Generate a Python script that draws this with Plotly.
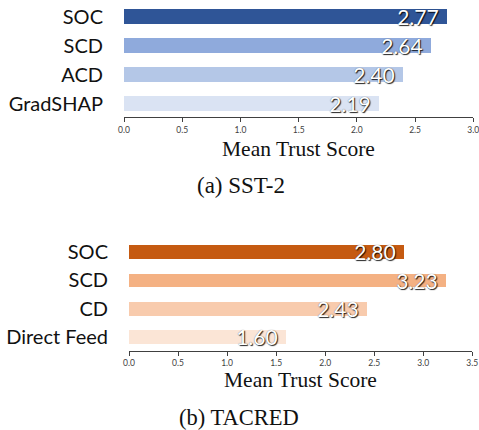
import plotly.graph_objects as go

W, H = 479, 430

# Panel (a) SST-2
sst_methods = ["SOC", "SCD", "ACD", "GradSHAP"]
sst_scores = [2.77, 2.64, 2.40, 2.19]
sst_colors = ["#2f5597", "#8faadc", "#b4c7e7", "#dae3f3"]

# Panel (b) TACRED
tac_methods = ["SOC", "SCD", "CD", "Direct Feed"]
tac_scores = [2.80, 3.23, 2.43, 1.60]
tac_colors = ["#c55a11", "#f4b183", "#f8cbad", "#fbe5d6"]

sst_ticks = [0.0, 0.5, 1.0, 1.5, 2.0, 2.5, 3.0]
tac_ticks = [0.0, 0.5, 1.0, 1.5, 2.0, 2.5, 3.0, 3.5]

xtitle = "Mean Trust Score"
captions = ["(a) SST-2", "(b) TACRED"]

SANS = "Lato, 'Open Sans', sans-serif"
SERIF = "'Liberation Serif', 'Times New Roman', serif"
label_font = dict(family=SANS, size=21, color="white",
                  shadow="1px 1px 1px rgba(0,0,0,0.85), 0px 0px 1px rgba(0,0,0,0.6)")

fig = go.Figure()

def add_bars(methods, scores, colors, xa, ya, width):
    fig.add_trace(go.Bar(
        x=scores, y=methods, orientation="h",
        marker=dict(color=colors, line=dict(width=0)),
        width=width,
        texttemplate="%{x:.2f}\u00a0",
        textposition="inside", insidetextanchor="end",
        constraintext="none",
        textfont=label_font,
        cliponaxis=False,
        xaxis=xa, yaxis=ya, showlegend=False, hoverinfo="skip",
    ))

add_bars(sst_methods, sst_scores, sst_colors, "x", "y", 0.52)
add_bars(tac_methods, tac_scores, tac_colors, "x2", "y2", 0.49)

axis_common = dict(
    showline=True, linecolor="#404040", linewidth=1.2,
    ticks="outside", ticklen=4, tickcolor="#404040", tickwidth=1,
    showgrid=False, zeroline=False, fixedrange=True, automargin=False,
    ticklabeloverflow="allow",
    tickfont=dict(family=SANS, size=8.5, color="#404040"),
    tickformat=".1f", tickmode="array",
)
yaxis_common = dict(
    type="category", categoryorder="array",
    showline=False, ticks="", showgrid=False, zeroline=False,
    ticklabelstandoff=20, fixedrange=True, automargin=False,
    tickfont=dict(family=SANS, size=20, color="#111111"),
)

# Panel geometry (pixels)
t_top, t_bot = 2.0, 117.3
b_top, b_bot = 237.8, 350.7

fig.update_layout(
    width=W, height=H,
    margin=dict(l=0, r=0, t=0, b=0, autoexpand=False),
    paper_bgcolor="white", plot_bgcolor="white",
    bargap=0,
    xaxis=dict(domain=[124 / W, 473.3 / W], range=[0, 3.0], tickvals=sst_ticks,
               anchor="y", **axis_common),
    yaxis=dict(domain=[1 - t_bot / H, 1 - t_top / H],
               categoryarray=sst_methods, range=[3.476, -0.5], anchor="x",
               **yaxis_common),
    xaxis2=dict(domain=[129 / W, 472.3 / W], range=[0, 3.5], tickvals=tac_ticks,
                anchor="y2", **axis_common),
    yaxis2=dict(domain=[1 - b_bot / H, 1 - b_top / H],
                categoryarray=tac_methods, range=[3.483, -0.5], anchor="x2",
                **yaxis_common),
)

ann = []
for xc, yc, txt, sz in [((124 + 473.3) / 2, 149, xtitle, 21.5),
                        ((129 + 472.3) / 2, 379.5, xtitle, 21.5),
                        (241, 185, captions[0], 23),
                        (239, 417, captions[1], 22.5)]:
    ann.append(dict(x=xc / W, y=1 - yc / H, xref="paper", yref="paper",
                    text=txt, showarrow=False, xanchor="center", yanchor="middle",
                    font=dict(family=SERIF, size=sz, color="#111111")))
fig.update_layout(annotations=ann)

fig.write_html("out.html", config={"displayModeBar": False},
               post_script="document.body.style.margin='0px';document.body.style.overflow='hidden';")
